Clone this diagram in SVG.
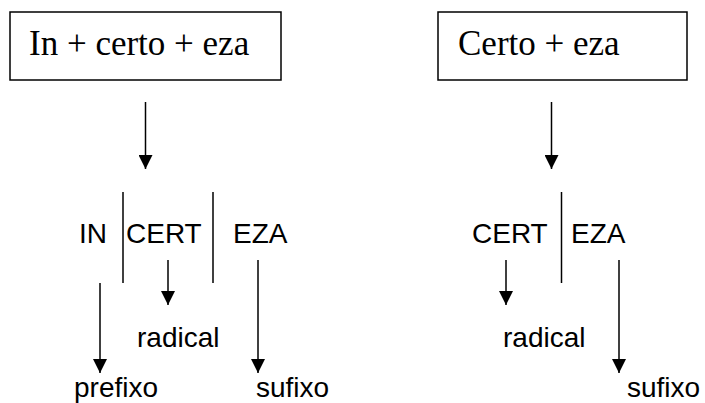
<svg xmlns="http://www.w3.org/2000/svg" width="705" height="403" viewBox="0 0 705 403">
<defs>
<style>
.box{fill:#fff;stroke:#000;stroke-width:1.5}
.serif{font-family:"Liberation Serif","Times New Roman",serif;font-size:35px;fill:#000}
.sans{font-family:"Liberation Sans",Arial,sans-serif;font-size:28px;fill:#000}
.ln{stroke:#000;stroke-width:1.5;fill:none}
.arr{stroke:#000;stroke-width:1.5;fill:none;marker-end:url(#ah)}
</style>
<marker id="ah" markerWidth="14" markerHeight="14" refX="14" refY="7" orient="auto" markerUnits="userSpaceOnUse">
<path d="M0,0 L14,7 L0,14 Z" fill="#000"/>
</marker>
</defs>
<rect width="705" height="403" fill="#fff"/>
<g id="box1"><rect class="box" x="10" y="12" width="271" height="68"/><text class="serif" x="29" y="55">In + certo + eza</text></g>
<g id="box2"><rect class="box" x="438" y="12" width="249" height="68"/><text class="serif" x="458" y="55">Certo + eza</text></g>
<g id="in"><text class="sans" x="79" y="243">IN</text></g>
<g id="cert1"><text class="sans" x="126" y="243">CERT</text></g>
<g id="eza1"><text class="sans" x="233" y="243">EZA</text></g>
<g id="prefixo"><text class="sans" x="74" y="397">prefixo</text></g>
<g id="radical1"><text class="sans" x="137" y="347">radical</text></g>
<g id="sufixo1"><text class="sans" x="256" y="397">sufixo</text></g>
<g id="cert2"><text class="sans" x="472" y="243">CERT</text></g>
<g id="eza2"><text class="sans" x="571" y="243">EZA</text></g>
<g id="radical2"><text class="sans" x="503" y="347">radical</text></g>
<g id="sufixo2"><text class="sans" x="627" y="397">sufixo</text></g>
<g id="connectors">
<line class="arr" x1="145.5" y1="102" x2="145.5" y2="169"/>
<line class="arr" x1="551.5" y1="102" x2="551.5" y2="169"/>
<line class="ln" x1="123" y1="192" x2="123" y2="283"/>
<line class="ln" x1="213" y1="192" x2="213" y2="283"/>
<line class="ln" x1="561.5" y1="192" x2="561.5" y2="283"/>
<line class="arr" x1="100" y1="283" x2="100" y2="373"/>
<line class="arr" x1="168" y1="260" x2="168" y2="305"/>
<line class="arr" x1="258" y1="260" x2="258" y2="373"/>
<line class="arr" x1="506" y1="260" x2="506" y2="305"/>
<line class="arr" x1="619" y1="260" x2="619" y2="373"/>
</g>
</svg>
